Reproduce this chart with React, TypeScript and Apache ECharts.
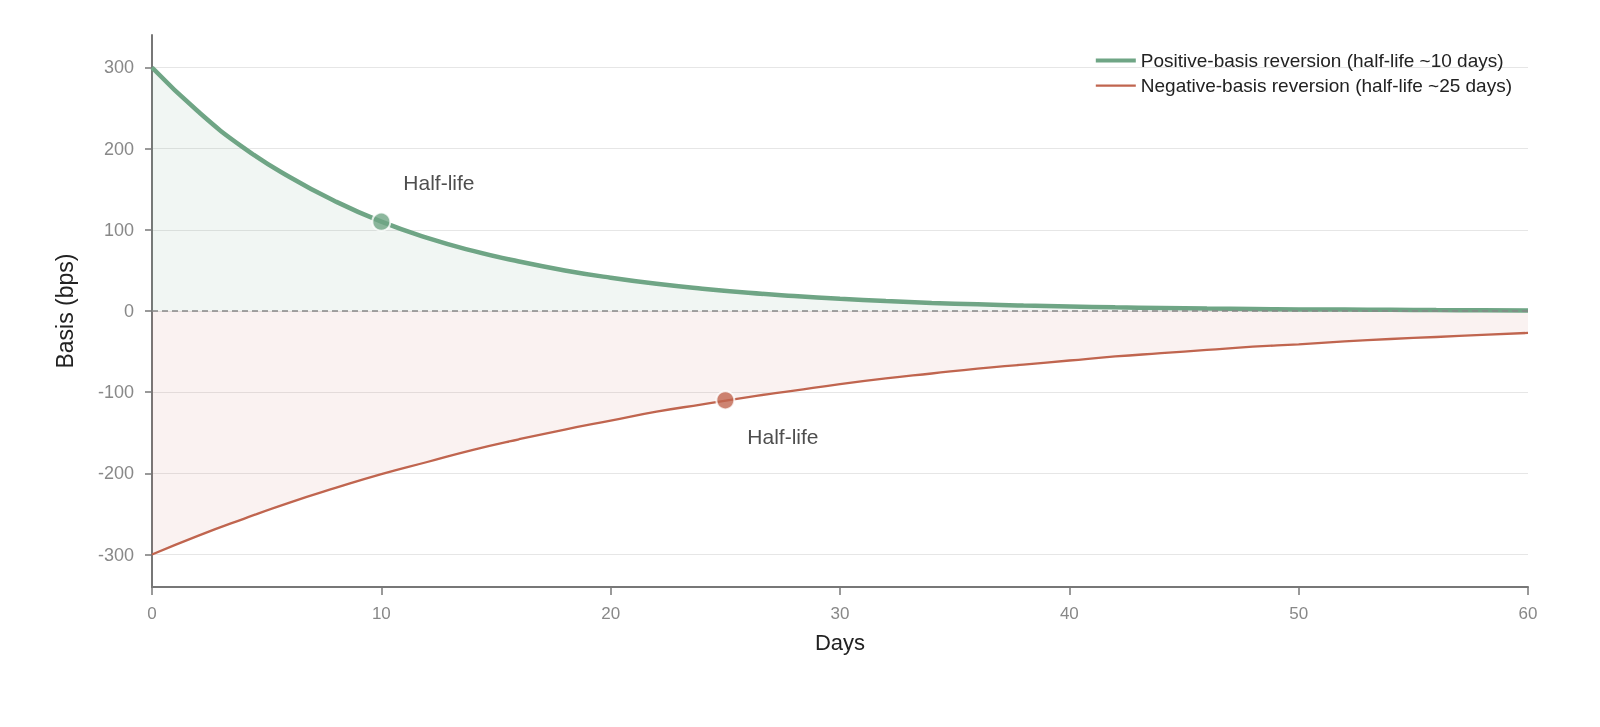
import React, { useEffect, useRef } from 'react';
import * as echarts from 'echarts';

const days = [0, 2, 4, 6, 8, 10, 12, 14, 16, 18, 20, 22, 24, 26, 28, 30, 32, 34, 36, 38, 40, 42, 44, 46, 48, 50, 52, 54, 56, 58, 60];
const positiveBasis = [300, 246, 201, 165, 135, 110, 90, 74, 61, 50, 41, 33.5, 27.5, 22.5, 18.5, 15, 12.2, 10, 8.2, 6.7, 5.5, 4.5, 3.7, 3, 2.5, 2, 1.7, 1.4, 1.1, 0.9, 0.7];
const negativeBasis = [-300, -277, -256, -236, -218, -201, -186, -171, -158, -146, -135, -124, -115, -106, -98, -90, -83, -77, -71, -66, -61, -56, -52, -48, -44, -41, -37.5, -34.5, -32, -29.5, -27];
const yTicks = [-300, -200, -100, 0, 100, 200, 300];
const halfLifePos = [10, 110];
const halfLifeNeg = [25, -110];

const GREEN = '#6fa585';
const RED = '#c0654f';
const FONT = 'Liberation Sans, Arial, Helvetica, sans-serif';
const POS_NAME = 'Positive-basis reversion (half-life ~10 days)';
const NEG_NAME = 'Negative-basis reversion (half-life ~25 days)';

const App: React.FC = () => {
  const chartRef = useRef<HTMLDivElement>(null);

  useEffect(() => {
    if (!chartRef.current) return;
    const chart = echarts.init(chartRef.current, undefined, { renderer: 'svg' });

    const option = {
      animation: false,
      textStyle: { fontFamily: FONT },
      grid: { left: 152, right: 72, top: 35, bottom: 140 },
      legend: {
        orient: 'vertical',
        right: 83,
        top: 46,
        itemWidth: 40,
        itemHeight: 14,
        itemGap: 6,
        textStyle: { fontSize: 19, color: '#222', fontFamily: FONT },
        data: [
          { name: POS_NAME, icon: 'path://M0,0M40,14M0,5H40V9H0Z' },
          { name: NEG_NAME, icon: 'path://M0,0M40,14M0,6H40V8.2H0Z' },
        ],
      },
      xAxis: {
        type: 'value',
        min: 0,
        max: 60,
        interval: 10,
        name: 'Days',
        nameLocation: 'middle',
        nameGap: 44,
        nameTextStyle: { fontSize: 22, color: '#222' },
        axisLine: { onZero: false, lineStyle: { color: '#777', width: 2 } },
        axisTick: { show: true, length: 8, lineStyle: { color: '#777', width: 1.5 } },
        axisLabel: { fontSize: 17, color: '#888', margin: 18 },
        splitLine: { show: false },
      },
      yAxis: {
        type: 'value',
        min: -340,
        max: 340,
        name: 'Basis (bps)',
        nameLocation: 'middle',
        nameGap: 76,
        nameRotate: 90,
        nameTextStyle: { fontSize: 23, color: '#222' },
        axisLine: { show: true, lineStyle: { color: '#777', width: 2 } },
        axisTick: { show: true, length: 7, customValues: yTicks, lineStyle: { color: '#777', width: 1.5 } },
        axisLabel: { fontSize: 18, color: '#888', margin: 18, customValues: yTicks },
        splitLine: { show: true, lineStyle: { color: '#e6e6e6', width: 1.2 } },
      },
      series: [
        {
          name: POS_NAME,
          type: 'line',
          data: days.map((d, i) => [d, positiveBasis[i]]),
          smooth: 0.5,
          symbol: 'none',
          lineStyle: { color: GREEN, width: 4.5 },
          itemStyle: { color: GREEN },
          areaStyle: { color: 'rgba(111,165,133,0.14)' },
          z: 3,
        },
        {
          name: NEG_NAME,
          type: 'line',
          data: days.map((d, i) => [d, negativeBasis[i]]),
          smooth: 0.5,
          symbol: 'none',
          lineStyle: { color: RED, width: 2.3 },
          itemStyle: { color: RED },
          areaStyle: { color: 'rgba(192,101,79,0.12)' },
          z: 3,
          markLine: {
            silent: true,
            symbol: 'none',
            label: { show: false },
            lineStyle: { color: '#888', type: [6, 4], width: 1.5 },
            data: [{ yAxis: 0 }],
          },
        },
        {
          type: 'scatter',
          data: [halfLifePos],
          symbolSize: 18,
          itemStyle: { color: GREEN, borderColor: '#fff', borderWidth: 2 },
          label: {
            show: true,
            formatter: 'Half-life',
            position: 'right',
            offset: [7, -39],
            fontSize: 21,
            color: '#222',
          },
          z: 5,
        },
        {
          type: 'scatter',
          data: [halfLifeNeg],
          symbolSize: 18,
          itemStyle: { color: RED, borderColor: '#fff', borderWidth: 2 },
          label: {
            show: true,
            formatter: 'Half-life',
            position: 'right',
            offset: [7, 36],
            fontSize: 21,
            color: '#222',
          },
          z: 5,
        },
      ],
    };

    chart.setOption(option);
    return () => chart.dispose();
  }, []);

  return <div ref={chartRef} style={{ position: 'fixed', left: 0, top: 0, width: 1600, height: 727 }} />;
};

export default App;
